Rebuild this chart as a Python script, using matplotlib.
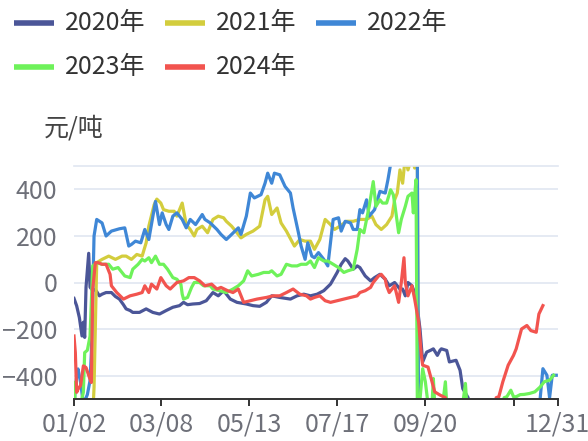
import matplotlib
matplotlib.use("Agg")
import matplotlib.pyplot as plt
from matplotlib.lines import Line2D

plt.rcParams['font.family'] = ['Noto Sans CJK SC', 'DejaVu Sans']

# x positions are day indices counted from 01/02
tick_pos = [0, 65, 131, 197, 263, 329, 362]
tick_labels = ['01/02', '03/08', '05/13', '07/17', '09/20', '', '12/31']
y_ticks = [-400, -200, 0, 200, 400]

days_2020 = [0, 2, 4, 6, 7, 8, 9, 11, 12, 14, 16, 19, 21, 24, 28, 31, 34, 37, 39, 42,
             44, 49, 54, 59, 64, 69, 74, 79, 82, 85, 89, 94, 99, 104, 108, 112, 117, 122, 129, 134,
             139, 144, 148, 154, 162, 167, 172, 177, 182, 187, 192, 197, 200, 203, 205, 209, 212, 214, 218, 222,
             225, 229, 233, 236, 240, 244, 246, 248, 250, 253, 256, 259, 261, 264, 267, 269, 272, 274, 275, 279,
             281, 286, 289, 291, 295, 297]
vals_2020 = [-68, -100, -150, -229, -170, -235, -20, 125, -20, -35, -30, -57, -50, -43, -43, -60, -71, -95, -113, -120,
             -128, -128, -113, -128, -135, -120, -106, -99, -85, -95, -92, -90, -78, -43, -57, -35, -71, -85, -92, -99,
             -102, -85, -57, -64, -71, -57, -50, -57, -50, -35, -7, 43, 78, 102, 92, 57, 71, 64, 28, 7,
             21, 35, 14, -14, 0, -28, -28, -57, 0, -14, -60, -200, -340, -298, -290, -284, -312, -290, -284, -291,
             -340, -333, -376, -454, -493, -700]

days_2021 = [13, 15, 17, 21, 26, 31, 36, 39, 43, 47, 51, 54, 56, 60, 62, 65, 67, 71, 75, 77,
             81, 84, 87, 90, 92, 96, 100, 104, 108, 112, 114, 118, 122, 125, 129, 134, 139, 143, 145, 148,
             152, 155, 159, 163, 165, 169, 173, 177, 180, 184, 188, 192, 195, 199, 204, 209, 214, 219, 223, 226,
             230, 234, 238, 240, 242, 244, 246, 248, 250, 253, 255, 257, 258]
vals_2021 = [-700, -450, 85, 99, 113, 99, 113, 113, 99, 120, 113, 170, 241, 333, 357, 340, 312, 305, 305, 284,
             340, 248, 227, 199, 227, 241, 213, 270, 284, 277, 262, 241, 213, 191, 206, 220, 241, 354, 369, 291,
             319, 255, 220, 177, 156, 184, 177, 177, 142, 184, 270, 248, 227, 241, 262, 262, 270, 270, 284, 248,
             227, 248, 284, 354, 383, 482, 425, 540, 482, 540, 490, 540, -700]

days_2022 = [0, 2, 3, 5, 7, 10, 12, 13, 15, 17, 21, 24, 28, 34, 38, 41, 43, 46, 50, 53,
             56, 61, 64, 66, 69, 71, 74, 77, 81, 84, 87, 91, 96, 98, 102, 107, 110, 114, 118, 123,
             125, 129, 132, 135, 140, 143, 145, 148, 150, 154, 158, 162, 164, 168, 170, 173, 175, 178, 180, 183,
             187, 190, 194, 198, 200, 203, 207, 209, 212, 214, 216, 219, 221, 225, 229, 233, 235, 238, 257, 258,
             348, 349, 351, 354, 356, 358, 361]
vals_2022 = [-520, -400, -370, -430, -520, -480, -420, -300, 199, 270, 255, 199, 220, 230, 234, 156, 163, 177, 170, 227,
             184, 347, 248, 298, 248, 227, 284, 298, 270, 234, 270, 248, 291, 270, 255, 227, 206, 184, 206, 234,
             206, 284, 383, 362, 376, 425, 468, 425, 468, 461, 411, 383, 319, 213, 156, 99, 170, 113, 106, 128,
             99, 71, 270, 277, 220, 262, 255, 227, 227, 312, 298, 354, 284, 312, 390, 383, 440, 540, 540, -700,
             -700, -493, -369, -397, -493, -397, -397]

days_2023 = [0, 1, 5, 7, 8, 10, 12, 14, 17, 21, 26, 29, 33, 38, 42, 44, 48, 51, 53, 56,
             58, 61, 64, 67, 70, 74, 77, 80, 81, 82, 85, 88, 90, 94, 97, 102, 104, 109, 114, 119,
             123, 127, 130, 133, 138, 142, 146, 148, 152, 155, 159, 163, 167, 170, 174, 177, 180, 183, 187, 190,
             194, 198, 202, 205, 209, 212, 214, 217, 219, 221, 224, 226, 229, 231, 234, 237, 239, 240, 243, 245,
             248, 250, 253, 254, 256, 257, 259, 261, 263, 265, 268, 269, 270, 276, 278, 279, 291, 293, 294, 321,
             322, 324, 327, 329, 331, 334, 337, 341, 345, 349, 352, 356, 359]
vals_2023 = [-428, -520, -520, -470, -300, -290, -230, 71, 85, 78, 78, 57, 64, 28, 21, 57, 78, 99, 92, 106,
             85, 113, 78, 78, 57, 21, 14, -7, -50, -71, -64, -21, 0, 0, -14, -14, -28, -35, -43, -28,
             -14, 7, 50, 28, 35, 43, 43, 50, 28, 35, 78, 71, 71, 78, 78, 92, 64, 106, 92, 92,
             78, 64, 43, 50, 57, 142, 227, 213, 270, 326, 432, 326, 354, 340, 340, 397, 376, 340, 213, 270,
             326, 369, 383, 298, 440, -520, -500, -369, -425, -520, -520, -411, -520, -520, -425, -520, -520, -432, -520, -520,
             -493, -489, -461, -489, -489, -480, -479, -475, -468, -447, -425, -418, -397]

days_2024 = [0, 1, 2, 3, 5, 7, 9, 12, 13, 14, 16, 18, 21, 24, 27, 28, 32, 37, 42, 47,
             51, 53, 56, 58, 62, 65, 69, 72, 77, 82, 86, 90, 94, 98, 103, 107, 110, 115, 119, 123,
             127, 132, 137, 144, 149, 154, 159, 164, 169, 174, 177, 180, 184, 188, 192, 197, 202, 207, 212, 214,
             218, 222, 224, 228, 230, 233, 234, 236, 240, 243, 245, 247, 248, 250, 253, 255, 258, 260, 261, 265,
             268, 270, 274, 278, 280, 314, 316, 318, 321, 325, 329, 331, 335, 339, 342, 346, 348, 351]
vals_2024 = [-229, -300, -470, -457, -440, -357, -364, -414, -428, -28, 85, 85, 78, 78, 35, -14, -43, -71, -57, -50,
             -43, -14, -43, -7, -28, 21, -14, -28, 0, 7, 21, 21, 7, -14, -7, -28, -21, -35, -43, -28,
             -85, -78, -71, -64, -57, -57, -43, -28, -50, -57, -71, -64, -57, -78, -85, -78, -71, -64, -57, -43,
             -35, -21, 0, 28, 35, 14, -14, -43, -14, -85, 0, 106, 0, -57, -14, -71, -170, -312, -354, -362,
             -425, -468, -482, -493, -700, -700, -493, -489, -425, -354, -312, -284, -199, -184, -206, -213, -135, -99]

series = [
    ('2020年', days_2020, vals_2020, '#4b5698'),
    ('2021年', days_2021, vals_2021, '#d3cd3d'),
    ('2022年', days_2022, vals_2022, '#3f87d6'),
    ('2023年', days_2023, vals_2023, '#6ef25a'),
    ('2024年', days_2024, vals_2024, '#f2544f'),
]

W, H = 588, 441
fig = plt.figure(figsize=(W / 100, H / 100), dpi=100)
ax = fig.add_axes([74 / W, 1 - 399.3 / H, (557.6 - 74) / W, (399.3 - 165.7) / H])

for name, d, v, c in series:
    ax.plot(d, v, color=c, lw=2.3, solid_joinstyle='round')

ax.set_xlim(0, 362)
ax.set_ylim(-500, 500)
ax.set_yticks(y_ticks)
ax.set_xticks(tick_pos)
ax.set_xticklabels(tick_labels)
grid_c = '#e0e6f1'
ax.grid(axis='y', color=grid_c, lw=1.2)
ax.axhline(500, color=grid_c, lw=1.2, clip_on=False)
ax.set_axisbelow(True)
for s in ['left', 'right', 'top']:
    ax.spines[s].set_visible(False)
ax.spines['bottom'].set_color('#333333')
ax.spines['bottom'].set_linewidth(1.4)
ax.tick_params(axis='x', colors='#333333', length=5, width=1.4, pad=4,
               labelsize=18, labelcolor='#6e7079')
ax.tick_params(axis='y', length=0, pad=12, labelsize=18, labelcolor='#6e7079')

# y axis name
fig.text(74 / W, 1 - 128 / H, '元/吨', ha='center', va='center', fontsize=18, color='#444444')

# legend, laid out like the original two rows
leg_pos = [(14, 22.7), (165, 22.7), (316, 22.7), (14, 66.7), (165, 66.7)]
for (name, d, v, c), (x0, yc) in zip(series, leg_pos):
    fig.add_artist(Line2D([x0 / W, (x0 + 40) / W], [1 - yc / H] * 2, color=c, lw=4,
                          solid_capstyle='butt'))
    fig.text((x0 + 51) / W, 1 - yc / H, name, ha='left', va='center', fontsize=18, color='#333333')

fig.savefig('out.png', dpi=100)
